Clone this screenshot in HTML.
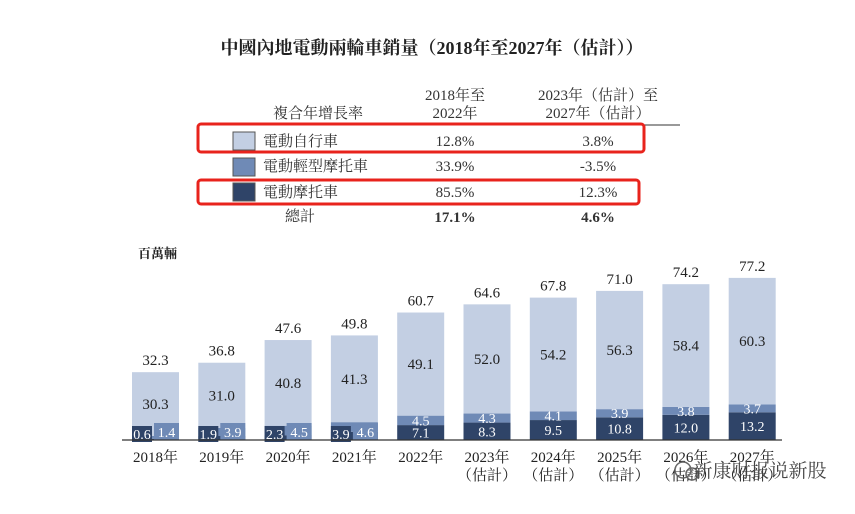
<!DOCTYPE html>
<html><head><meta charset="utf-8"><style>
body{margin:0;background:#fff;}
svg text{font-family:"Liberation Serif","Noto Serif CJK SC","Noto Sans CJK TC",serif;}
</style></head><body>
<svg width="855" height="509" viewBox="0 0 855 509">
<text x="432" y="54" text-anchor="middle" font-size="18" font-weight="bold" fill="#222">中國內地電動兩輪車銷量（2018年至2027年（估計））</text>
<g font-size="15" fill="#333">
<text x="318" y="118" text-anchor="middle">複合年增長率</text>
<text x="455" y="100" text-anchor="middle">2018年至</text>
<text x="455" y="118" text-anchor="middle">2022年</text>
<text x="598" y="100" text-anchor="middle">2023年（估計）至</text>
<text x="598" y="118" text-anchor="middle">2027年（估計）</text>
<line x1="215" y1="125" x2="680" y2="125" stroke="#333" stroke-width="1"/>
<rect x="233" y="132" width="22" height="18" fill="#c3cfe3" stroke="#555"/>
<text x="263" y="146">電動自行車</text>
<text x="455" y="146" text-anchor="middle">12.8%</text><text x="598" y="146" text-anchor="middle">3.8%</text>
<rect x="233" y="158" width="22" height="18" fill="#6f8ab6" stroke="#555"/>
<text x="263" y="171">電動輕型摩托車</text>
<text x="455" y="171" text-anchor="middle">33.9%</text><text x="598" y="171" text-anchor="middle">-3.5%</text>
<rect x="233" y="183" width="22" height="18" fill="#2f4468" stroke="#555"/>
<text x="263" y="197">電動摩托車</text>
<text x="455" y="197" text-anchor="middle">85.5%</text><text x="598" y="197" text-anchor="middle">12.3%</text>
<text x="300" y="221" text-anchor="middle">總計</text>
<text x="455" y="222" text-anchor="middle" font-weight="bold">17.1%</text><text x="598" y="222" text-anchor="middle" font-weight="bold">4.6%</text>
<rect x="198" y="124" width="446" height="28" rx="3" fill="none" stroke="#e8231c" stroke-width="3"/>
<rect x="198" y="180" width="441" height="24" rx="3" fill="none" stroke="#e8231c" stroke-width="3"/>
</g>
<text x="138" y="258" font-size="13" font-weight="bold" fill="#222" font-family="Liberation Sans,Noto Sans CJK TC,sans-serif">百萬輛</text>
<g id="bars"></g>
<line x1="122" y1="440" x2="782" y2="440" stroke="#333" stroke-width="1.2"/>
<g>
<circle cx="683" cy="470" r="8" fill="none" stroke="#666" stroke-width="1.5"/>
<circle cx="692" cy="474" r="6" fill="none" stroke="#666" stroke-width="1.5"/>
<text x="760" y="477" font-size="19" fill="#444" font-family="Liberation Sans,Noto Sans CJK SC,sans-serif" text-anchor="middle">新康财报说新股</text>
</g>
</svg>
<script>
const years=["2018年","2019年","2020年","2021年","2022年","2023年","2024年","2025年","2026年","2027年"];
const estimated=[false,false,false,false,false,true,true,true,true,true];
const motorcycle=[0.6,1.9,2.3,3.9,7.1,8.3,9.5,10.8,12.0,13.2];
const moped=[1.4,3.9,4.5,4.6,4.5,4.3,4.1,3.9,3.8,3.7];
const bicycle=[30.3,31.0,40.8,41.3,49.1,52.0,54.2,56.3,58.4,60.3];
const totals=[32.3,36.8,47.6,49.8,60.7,64.6,67.8,71.0,74.2,77.2];
const NS="http://www.w3.org/2000/svg";
const g=document.getElementById('bars');
const base=440,k=2.1,bw=47;
const y=v=>base-v*k;
const xc=i=>155.5+i*66.3;
function el(t,a,txt){const e=document.createElementNS(NS,t);for(const n in a)e.setAttribute(n,a[n]);if(txt!==undefined)e.textContent=txt;g.appendChild(e);return e;}
years.forEach((yr,i)=>{
  const x=xc(i)-bw/2;
  const m=motorcycle[i],p=moped[i],b=bicycle[i];
  let r=el('rect',{x:x,y:y(m),width:bw,height:m*k,fill:'#2f4468'});
  
  
  r=el('rect',{x:x,y:y(m+p),width:bw,height:p*k,fill:'#6f8ab6'});
  
  
  r=el('rect',{x:x,y:y(m+p+b),width:bw,height:b*k,fill:'#c3cfe3'});
  
  
  const top=y(m+p+b);
  let t=el('text',{x:xc(i),y:top-7,'text-anchor':'middle','font-size':15,fill:'#222'},totals[i].toFixed(1));
  
  
  el('text',{x:xc(i),y:(top+y(m+p))/2+5,'text-anchor':'middle','font-size':15,fill:'#222'},b.toFixed(1));
  if(m<5){
    el('rect',{x:x,y:base-14,width:20,height:16,fill:'#2f4468'});
    el('text',{x:x+10,y:base-1,'text-anchor':'middle','font-size':14,fill:'#fff'},m.toFixed(1));
    el('rect',{x:x+22,y:base-17,width:25,height:17,fill:'#6f8ab6'});
    el('text',{x:x+34.5,y:base-3,'text-anchor':'middle','font-size':14,fill:'#fff'},p.toFixed(1));
  }else{
    el('text',{x:xc(i),y:(y(m)+base)/2+5,'text-anchor':'middle','font-size':14,fill:'#fff'},m.toFixed(1));
    el('text',{x:xc(i),y:(y(m)+y(m+p))/2+5,'text-anchor':'middle','font-size':14,fill:'#fff'},p.toFixed(1));
  }
  t=el('text',{x:xc(i),y:462,'text-anchor':'middle','font-size':15,fill:'#222'},yr);
  
  
  if(estimated[i]) el('text',{x:xc(i),y:480,'text-anchor':'middle','font-size':15,fill:'#222'},'（估計）');
});
</script>
</body></html>
